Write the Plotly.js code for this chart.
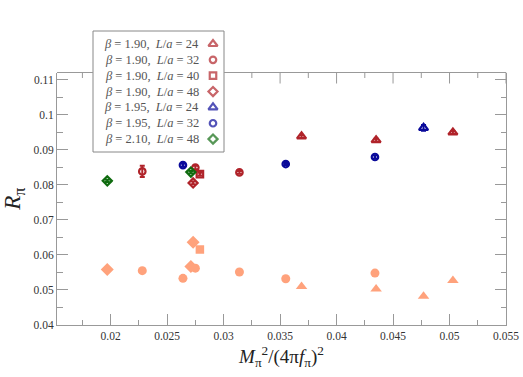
<!DOCTYPE html>
<html>
<head>
<meta charset="utf-8">
<script src="https://cdn.plot.ly/plotly-3.0.1.min.js"></script>
<style>html,body{margin:0;padding:0;background:#fff;}#chart{width:523px;height:377px;}</style>
</head>
<body>
<div id="chart"></div>
<script>
// ---- data ----
const legendLabels = [
  ["1.90", "24"], ["1.90", "32"], ["1.90", "40"], ["1.90", "48"],
  ["1.95", "24"], ["1.95", "32"], ["2.10", "48"]
];
// x = M_pi^2/(4 pi f_pi)^2 ; r = upper (R_pi) values ; rErr = their errors ; low = lower set values ; lowErr
const xB190L24 = [0.0369, 0.0435, 0.0503];
const rB190L24 = [0.0938, 0.0927, 0.0949];
const rErrB190L24 = [0.0004, 0.0004, 0.0004];
const lowB190L24 = [0.0510, 0.0503, 0.0527];
const lowErrB190L24 = [0, 0, 0];

const xB190L32 = [0.0228, 0.0275, 0.0314];
const rB190L32 = [0.0838, 0.0849, 0.0835];
const rErrB190L32 = [0.0016, 0.0005, 0.0004];
const lowB190L32 = [0.0555, 0.0562, 0.0551];
const lowErrB190L32 = [0.0006, 0, 0];

const xB190L40 = [0.0279];
const rB190L40 = [0.0830];
const rErrB190L40 = [0.0004];
const lowB190L40 = [0.0615];
const lowErrB190L40 = [0];

const xB190L48 = [0.0273];
const rB190L48 = [0.0805];
const rErrB190L48 = [0.0004];
const lowB190L48 = [0.0636];
const lowErrB190L48 = [0];

const xB195L24 = [0.0477];
const rB195L24 = [0.0962];
const rErrB195L24 = [0.0008];
const lowB195L24 = [0.0482];
const lowErrB195L24 = [0];

const xB195L32 = [0.0264, 0.0355, 0.0434];
const rB195L32 = [0.0856, 0.0859, 0.0879];
const rErrB195L32 = [0.0004, 0.0003, 0.0004];
const lowB195L32 = [0.0533, 0.0532, 0.0548];
const lowErrB195L32 = [0, 0, 0];

const xB210L48 = [0.0197, 0.0271];
const rB210L48 = [0.0811, 0.0836];
const rErrB210L48 = [0.0003, 0.0003];
const lowB210L48 = [0.0558, 0.0567];
const lowErrB210L48 = [0, 0];

const xTickVals = [0.02, 0.025, 0.03, 0.035, 0.04, 0.045, 0.05, 0.055];

// ---- styles ----
const RED = '#b0232a', BLUE = '#0a0a9a', GREEN = '#0f6b0f', LIGHT = '#ffa27c';
const AX = '#999999';
const FONT = "'Liberation Serif', 'DejaVu Serif', serif";
const styles = [
  {sym: 'triangle-up', col: RED, size: 8, lsize: 10},
  {sym: 'circle', col: RED, size: 6.5, lsize: 9},
  {sym: 'square', col: RED, size: 6.5, lsize: 8.5},
  {sym: 'diamond', col: RED, size: 7, lsize: 10},
  {sym: 'triangle-up', col: BLUE, size: 8, lsize: 10},
  {sym: 'circle', col: BLUE, size: 6.5, lsize: 9},
  {sym: 'diamond', col: GREEN, size: 7, lsize: 10}
];
const seriesData = [
  [xB190L24, rB190L24, rErrB190L24, lowB190L24, lowErrB190L24],
  [xB190L32, rB190L32, rErrB190L32, lowB190L32, lowErrB190L32],
  [xB190L40, rB190L40, rErrB190L40, lowB190L40, lowErrB190L40],
  [xB190L48, rB190L48, rErrB190L48, lowB190L48, lowErrB190L48],
  [xB195L24, rB195L24, rErrB195L24, lowB195L24, lowErrB195L24],
  [xB195L32, rB195L32, rErrB195L32, lowB195L32, lowErrB195L32],
  [xB210L48, rB210L48, rErrB210L48, lowB210L48, lowErrB210L48]
];

const traces = [];
seriesData.forEach((s, i) => {
  const st = styles[i];
  traces.push({
    type: 'scatter', mode: 'markers', x: s[0], y: s[3], showlegend: false, hoverinfo: 'skip',
    error_y: {type: 'data', array: s[4], color: LIGHT, thickness: 2, width: 2},
    marker: {symbol: st.sym, size: st.lsize, color: LIGHT, line: {width: 0}}
  });
});
seriesData.forEach((s, i) => {
  const st = styles[i];
  traces.push({
    type: 'scatter', mode: 'markers', x: s[0], y: s[1], showlegend: false, hoverinfo: 'skip',
    error_y: {type: 'data', array: s[2], color: st.col, thickness: 2, width: 2.5},
    marker: {symbol: st.sym + '-open', size: st.size, color: st.col, line: {width: 2.2, color: st.col}}
  });
});

// ---- geometry (pixels of the 523x377 page) ----
const TOP = 20, BOT = 325;               // paper area (margins)
const PLOT_TOP = 72.5;                   // top of the data frame
const H = BOT - TOP;
const py = p => (BOT - p) / H;           // pixel row -> paper y
const domTop = py(PLOT_TOP);
const xMin = 0.01525, xMax = 0.055;
const boxX0 = (93 - 57) / 449, boxX1 = (224 - 57) / 449;
const ROW0 = 44, ROWH = 15.85;

// ---- hand-drawn legend (markers on the right) ----
const rowIdx = legendLabels.map((_, i) => i);
traces.push({
  type: 'scatter', mode: 'markers', xaxis: 'x2', yaxis: 'y2',
  x: rowIdx.map(() => (213 - 57) / 449), y: rowIdx, showlegend: false, hoverinfo: 'skip',
  marker: {
    symbol: styles.map(s => s.sym + '-open'), size: styles.map(s => s.size),
    color: styles.map(s => s.col), line: {width: 2.2, color: styles.map(s => s.col)}
  }
});
const annotations = legendLabels.map((l, i) => ({
  xref: 'x2', yref: 'y2', x: (201 - 57) / 449, y: i, xanchor: 'right', yanchor: 'middle',
  showarrow: false, font: {family: FONT, size: 12.5, color: '#555'},
  text: '<i>β</i> = ' + l[0] + ',\u00a0\u00a0<i>L</i>/<i>a</i> = ' + l[1]
}));

// ---- top frame line & ticks (skipping the legend box) ----
const shapes = [
  {type: 'rect', xref: 'paper', yref: 'paper', x0: boxX0, x1: boxX1, y0: py(152), y1: py(31),
   line: {color: '#888', width: 1}, fillcolor: 'rgba(0,0,0,0)', layer: 'above'},
  {type: 'line', xref: 'paper', yref: 'paper', x0: 0, x1: boxX0, y0: domTop, y1: domTop, line: {color: AX, width: 1}},
  {type: 'line', xref: 'paper', yref: 'paper', x0: boxX1, x1: 1, y0: domTop, y1: domTop, line: {color: AX, width: 1}}
];
for (let k = 7; k <= 22; k++) {
  const v = k * 0.0025;
  const px = (v - xMin) / (xMax - xMin);
  if (px >= boxX0 - 0.003 && px <= boxX1 + 0.003) continue;
  const major = (k % 2 === 0);
  shapes.push({type: 'line', xref: 'paper', yref: 'paper', x0: px, x1: px, y0: domTop, y1: domTop - (major ? 11 : 5.5) / H,
    line: {color: AX, width: 1}});
}

const layout = {
  width: 523, height: 377,
  margin: {l: 57, r: 17, t: TOP, b: 377 - BOT, pad: 0},
  paper_bgcolor: '#fff', plot_bgcolor: 'rgba(0,0,0,0)',
  showlegend: false,
  font: {family: FONT, color: '#333'},
  xaxis: {
    range: [xMin, xMax], showgrid: false, zeroline: false, showline: true, linecolor: AX, linewidth: 1,
    ticks: 'inside', ticklen: 11, tickcolor: AX, tickwidth: 1, tickvals: xTickVals,
    tickfont: {family: FONT, size: 11.5, color: '#333'},
    minor: {dtick: 0.0025, tick0: 0, ticks: 'inside', ticklen: 5.5, tickcolor: AX, tickwidth: 1, showgrid: false},
    title: {text: '<i>M</i><sub>π</sub><sup>2</sup>/(4π<i>f</i><sub>π</sub>)<sup>2</sup>', font: {family: FONT, size: 19, color: '#222'}, standoff: 8}
  },
  yaxis: {
    domain: [0, domTop],
    range: [0.04, 0.112], showgrid: false, zeroline: false, showline: true, linecolor: AX, linewidth: 1,
    mirror: 'ticks', ticks: 'inside', ticklen: 11, tickcolor: AX, tickwidth: 1, dtick: 0.01, tick0: 0,
    tickfont: {family: FONT, size: 11.5, color: '#333'},
    minor: {dtick: 0.005, tick0: 0, ticks: 'inside', ticklen: 5.5, tickcolor: AX, tickwidth: 1, showgrid: false},
    title: {text: '<i>R</i><sub>π</sub>', font: {family: FONT, size: 23, color: '#222'}, standoff: 10}
  },
  xaxis2: {overlaying: 'x', anchor: 'y2', range: [0, 1], visible: false, fixedrange: true},
  yaxis2: {domain: [0, 1], anchor: 'x2', range: [(BOT - ROW0) / ROWH, (TOP - ROW0) / ROWH], visible: false, fixedrange: true},
  shapes: shapes,
  annotations: annotations
};

Plotly.newPlot('chart', traces, layout, {staticPlot: true, displayModeBar: false});
</script>
</body>
</html>
